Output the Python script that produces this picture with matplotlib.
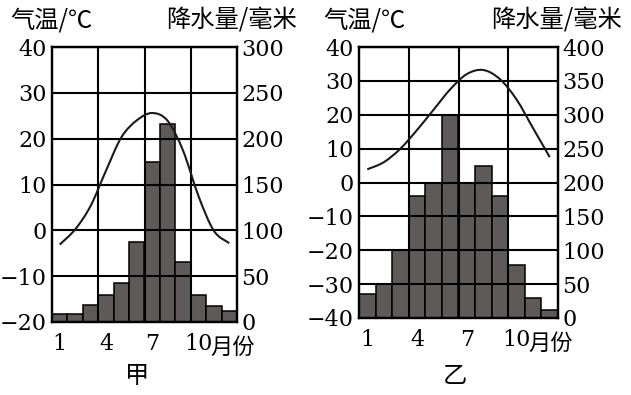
import numpy as np
import matplotlib
matplotlib.use('Agg')
import matplotlib.pyplot as plt
from matplotlib.path import Path
from matplotlib.patches import PathPatch

# データ
months = np.arange(1, 13)
temp_jia = [-3.1, 0.2, 5.3, 13.0, 20.3, 24.0, 25.6, 23.9, 17.4, 7.5, -0.1, -2.8]
prec_jia = [9, 9, 19, 30, 43, 87, 175, 216, 66, 30, 17, 12]
temp_yi = [3.9, 6.0, 10.0, 15.5, 21.5, 27.5, 32.0, 33.2, 30.5, 24.5, 16.0, 7.5]
prec_yi = [35, 50, 100, 180, 200, 300, 200, 225, 180, 78, 29, 12]

month_ticks = [1, 4, 7, 10]
month_labels = ['1', '4', '7', '10']

num_font = ['DejaVu Serif']
cjk_font = ['Noto Sans CJK SC', 'DejaVu Sans']
bar_color = '#5e5a5a'


def smooth_path(xs, ys):
    # Catmull-Rom -> Bezier で滑らかな曲線を描く
    pts = np.column_stack([xs, ys]).astype(float)
    verts = [pts[0]]
    codes = [Path.MOVETO]
    n = len(pts)
    for i in range(n - 1):
        p0 = pts[max(i - 1, 0)]
        p1 = pts[i]
        p2 = pts[i + 1]
        p3 = pts[min(i + 2, n - 1)]
        verts += [p1 + (p2 - p0) / 6, p2 - (p3 - p1) / 6, p2]
        codes += [Path.CURVE4] * 3
    return Path(verts, codes)


def draw_chart(fig, rect, temps, precs, tlim, plim, title, tx, ty):
    ax = fig.add_axes(rect)
    ax2 = ax.twinx()
    # 気温の軸(グリッド・曲線)を棒グラフの上に
    ax.set_zorder(ax2.get_zorder() + 1)
    ax.patch.set_visible(False)

    ax2.bar(months, precs, width=1.0, color=bar_color, edgecolor='black', linewidth=1.1)
    ax2.set_ylim(*plim)
    ax2.set_yticks(np.arange(plim[0], plim[1] + 1, 50))
    ax.set_ylim(*tlim)
    ax.set_yticks(np.arange(tlim[0], tlim[1] + 1, 10))
    ax.set_xlim(0.5, 12.5)
    ax.set_xticks(month_ticks)
    ax.set_xticklabels(month_labels)
    ax.set_xticks([3.5, 6.5, 9.5], minor=True)

    ax.grid(True, axis='y', color='black', linewidth=1.5)
    ax.grid(True, axis='x', which='minor', color='black', linewidth=1.5)
    ax.grid(False, axis='x', which='major')

    ax.add_patch(PathPatch(smooth_path(months, temps), facecolor='none',
                           edgecolor='#1a1a1a', linewidth=1.5, zorder=5))

    for a in (ax, ax2):
        for s in a.spines.values():
            s.set_linewidth(1.6)
        a.tick_params(which='both', length=0, labelsize=16)
        for lab in a.get_yticklabels() + a.get_xticklabels():
            lab.set_family(num_font)
    ax.tick_params(axis='y', pad=4)
    ax2.tick_params(axis='y', pad=3)
    ax.tick_params(axis='x', pad=8)

    ax.annotate('月份', xy=(10, 0), xycoords=('data', 'axes fraction'),
                xytext=(8.5, -18), textcoords='offset points', ha='left', va='center',
                fontsize=16, family=cjk_font)

    fig.text(tx[0], ty, '气温/℃', fontsize=17.5, family=cjk_font, ha='left', va='center')
    fig.text(tx[1], ty, '降水量/毫米', fontsize=17.5, family=cjk_font, ha='right', va='center')
    fig.text(title[1], 19 / 395, title[0], fontsize=17.5, family=cjk_font, ha='center', va='center')


W, H = 631, 395
fig = plt.figure(figsize=(W / 100, H / 100), dpi=100)

draw_chart(fig, [52 / W, 73 / H, 185 / W, 275 / H], temp_jia, prec_jia,
           (-20, 40), (0, 300), ('甲', 137 / W), (10 / W, 297 / W), 1 - 20 / H)
draw_chart(fig, [359 / W, 77 / H, 199 / W, 271 / H], temp_yi, prec_yi,
           (-40, 40), (0, 400), ('乙', 455 / W), (323 / W, 622 / W), 1 - 20 / H)

fig.savefig('out.png', dpi=100)
